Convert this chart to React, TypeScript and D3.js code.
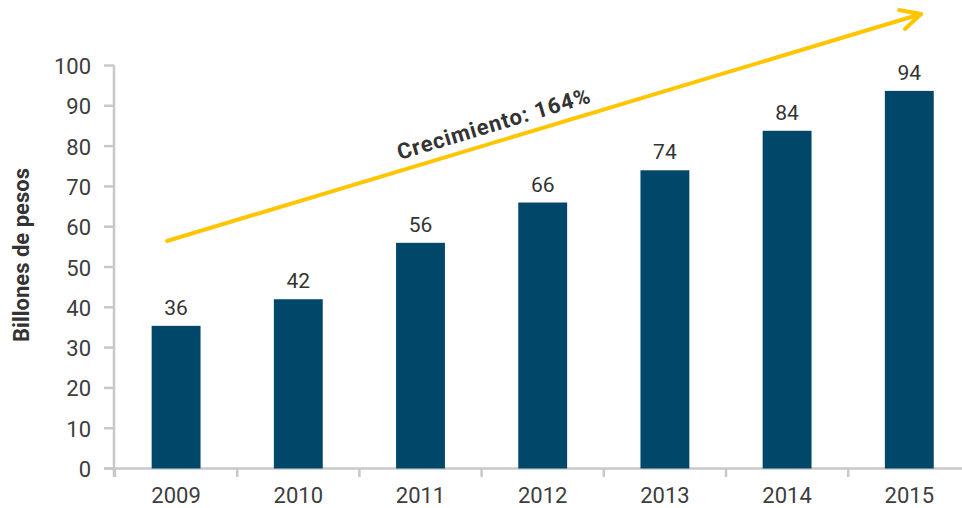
import React from "react";
import * as d3 from "d3";

const years = ["2009", "2010", "2011", "2012", "2013", "2014", "2015"];
const values = [35.4, 42, 56, 66, 74, 83.8, 93.7];
const valueLabels = ["36", "42", "56", "66", "74", "84", "94"];
const yTicks = [0, 10, 20, 30, 40, 50, 60, 70, 80, 90, 100];
const growthText = "Crecimiento: 164%";
const yTitle = "Billones de pesos";

const W = 962;
const H = 508;
const x0 = 115;
const bandW = 122.2;
const y = d3.scaleLinear().domain([0, 100]).range([468.5, 65.5]);
const x = d3
  .scaleBand<string>()
  .domain(years)
  .range([x0, x0 + bandW * years.length])
  .paddingInner(0.6)
  .paddingOuter(0.3);

const font = "Roboto, 'DejaVu Sans', sans-serif";

export default function App() {
  const arrowStart: [number, number] = [167, 241];
  const arrowEnd: [number, number] = [921, 14];
  const ang = (Math.atan2(arrowEnd[1] - arrowStart[1], arrowEnd[0] - arrowStart[0]) * 180) / Math.PI;
  const ticksX = d3.range(years.length + 1).map((i) => x0 + i * bandW);
  return (
    <svg width={W} height={H} style={{ position: "absolute", left: 0, top: 0, background: "#fff" }}>
      {/* y axis */}
      <line x1={114} x2={114} y1={y(100)} y2={477} stroke="#c8c8c8" strokeWidth={2.5} />
      {yTicks.map((t) => (
        <g key={t}>
          <line x1={104} x2={114} y1={y(t)} y2={y(t)} stroke="#c8c8c8" strokeWidth={2.5} />
          <text
            x={91}
            y={y(t) + 8.5}
            textAnchor="end"
            fontFamily={font}
            fontSize={22}
            fill="#3d3d3d"
          >
            {t}
          </text>
        </g>
      ))}
      {/* x axis */}
      <line x1={104} x2={W} y1={y(0)} y2={y(0)} stroke="#c8c8c8" strokeWidth={2.5} />
      {ticksX.map((tx, i) => (
        <line key={i} x1={tx} x2={tx} y1={y(0)} y2={477} stroke="#c8c8c8" strokeWidth={2.5} />
      ))}
      {years.map((yr) => (
        <text
          key={yr}
          x={(x(yr) as number) + x.bandwidth() / 2}
          y={503}
          textAnchor="middle"
          fontFamily={font}
          fontSize={22}
          fill="#3d3d3d"
        >
          {yr}
        </text>
      ))}
      {/* bars */}
      {years.map((yr, i) => (
        <g key={yr}>
          <rect
            x={x(yr) as number}
            y={y(values[i])}
            width={x.bandwidth()}
            height={y(0) - y(values[i])}
            fill="#00476a"
          />
          <text
            x={(x(yr) as number) + x.bandwidth() / 2}
            y={y(values[i]) - 11}
            textAnchor="middle"
            fontFamily={font}
            fontSize={21}
            fill="#333"
          >
            {valueLabels[i]}
          </text>
        </g>
      ))}
      {/* y title */}
      <text
        transform={`translate(29, 255) rotate(-90)`}
        textAnchor="middle"
        fontFamily={font}
        fontWeight="bold"
        fontSize={22}
        fill="#333"
      >
        {yTitle}
      </text>
      {/* arrow */}
      <g stroke="#ffc600" strokeWidth={4} strokeLinecap="round" strokeLinejoin="round" fill="none">
        <line x1={arrowStart[0]} y1={arrowStart[1]} x2={arrowEnd[0]} y2={arrowEnd[1]} />
        <polyline points={`899,10 ${arrowEnd[0]},${arrowEnd[1]} 905,29`} />
      </g>
      <text
        transform={`translate(496, 131) rotate(${ang})`}
        textAnchor="middle"
        fontFamily={font}
        fontWeight="bold"
        fontSize={22}
        fill="#333"
        letterSpacing={0.9}
      >
        {growthText}
      </text>
    </svg>
  );
}
